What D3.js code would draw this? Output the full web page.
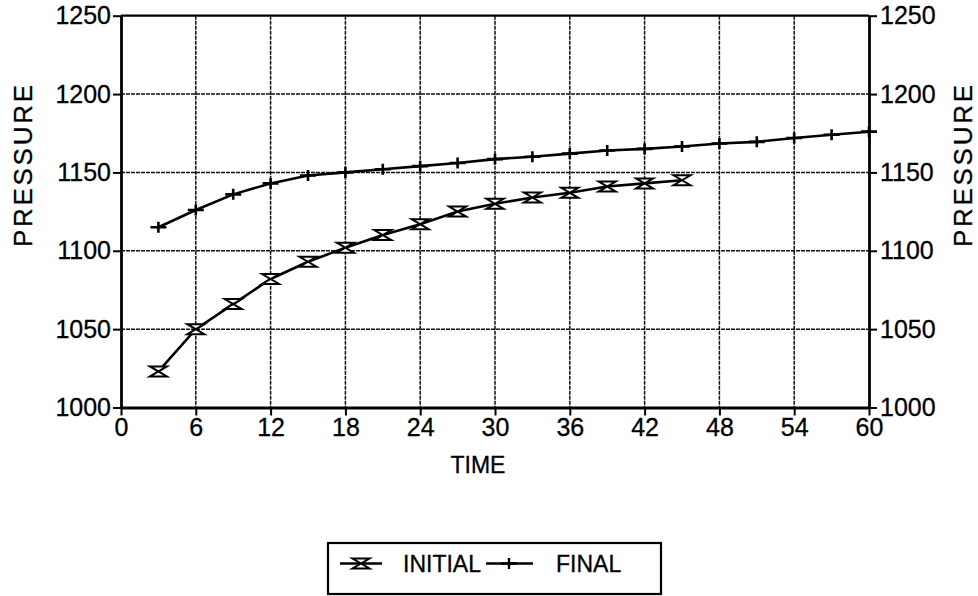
<!DOCTYPE html>
<html>
<head>
<meta charset="utf-8">
<script src="https://cdn.jsdelivr.net/npm/d3@7"></script>
<style>
  body { margin: 0; background: #fff; }
  text { font-family: "Liberation Sans", Arial, sans-serif; fill: #000; }
</style>
</head>
<body>
<svg width="978" height="596"></svg>
<script>
// data
const initialTime = [3, 6, 9, 12, 15, 18, 21, 24, 27, 30, 33, 36, 39, 42, 45];
const initialPressure = [1023, 1050, 1066, 1082, 1093, 1102, 1110, 1117, 1125, 1130, 1134, 1137, 1141, 1143, 1145];
const finalTime = [3, 6, 9, 12, 15, 18, 21, 24, 27, 30, 33, 36, 39, 42, 45, 48, 51, 54, 57, 60];
const finalPressure = [1115, 1126, 1136, 1143, 1148, 1150, 1152, 1154, 1156, 1158.5, 1160, 1162, 1164, 1165, 1166.5, 1168.5, 1169.5, 1172, 1174, 1176];
const xTicks = [0, 6, 12, 18, 24, 30, 36, 42, 48, 54, 60];
const yTicks = [1000, 1050, 1100, 1150, 1200, 1250];
const seriesNames = ["INITIAL", "FINAL"];

const svg = d3.select("svg");
const plotLeft = 121, plotRight = 869, plotTop = 15.7, plotBottom = 407.5;

const x = d3.scaleLinear().domain([0, 60]).range([plotLeft, plotRight]);
const y = d3.scaleLinear().domain([1000, 1250]).range([plotBottom, plotTop]);

// grid
const grid = svg.append("g").attr("stroke", "#111").attr("stroke-width", 1.5).attr("stroke-dasharray", "4,1");
grid.selectAll(".vg").data(xTicks.slice(1, -1)).enter().append("line")
    .attr("x1", (d) => x(d)).attr("x2", (d) => x(d))
    .attr("y1", plotTop).attr("y2", plotBottom);
grid.selectAll(".hg").data(yTicks.slice(1, -1)).enter().append("line")
    .attr("x1", plotLeft).attr("x2", plotRight)
    .attr("y1", (d) => y(d)).attr("y2", (d) => y(d));

// top border
svg.append("line").attr("x1", plotLeft).attr("x2", plotRight).attr("y1", plotTop).attr("y2", plotTop)
    .attr("stroke", "#000").attr("stroke-width", 2.2);

function styleAxis(g) {
  g.select(".domain").attr("stroke-width", 2.8);
  g.selectAll(".tick line").attr("stroke-width", 2);
  g.selectAll(".tick text").attr("font-size", 25).attr("font-family", "Liberation Sans, Arial, sans-serif")
      .attr("stroke", "#000").attr("stroke-width", 0.3);
}

const fmt = d3.format("d");

svg.append("g").attr("transform", "translate(0," + plotBottom + ")")
    .call(d3.axisBottom(x).tickValues(xTicks).tickFormat(fmt).tickSize(8).tickSizeOuter(0).tickPadding(3))
    .call(styleAxis);

svg.append("g").attr("transform", "translate(" + plotLeft + ",0)")
    .call(d3.axisLeft(y).tickValues(yTicks).tickFormat(fmt).tickSize(8).tickSizeOuter(0).tickPadding(2))
    .call(styleAxis);

svg.append("g").attr("transform", "translate(" + plotRight + ",0)")
    .call(d3.axisRight(y).tickValues(yTicks).tickFormat(fmt).tickSize(8).tickSizeOuter(0).tickPadding(3))
    .call(styleAxis);

// axis titles
svg.append("text").attr("x", 478).attr("y", 473)
    .attr("text-anchor", "middle").attr("font-size", 23).attr("stroke", "#000").attr("stroke-width", 0.3).text("TIME");
svg.append("text").attr("transform", "translate(32,166) rotate(-90)")
    .attr("text-anchor", "middle").attr("font-size", 26).attr("textLength", 162)
    .attr("stroke", "#000").attr("stroke-width", 0.3).text("PRESSURE");
svg.append("text").attr("transform", "translate(972,166) rotate(-90)")
    .attr("text-anchor", "middle").attr("font-size", 26).attr("textLength", 162)
    .attr("stroke", "#000").attr("stroke-width", 0.3).text("PRESSURE");

// markers
const hourglass = "M-8.5,-5L8.5,-5L-8.5,5L8.5,5Z";
const plus = "M-8,0L8,0M0,-5.5L0,5.5";

const line = d3.line().x((d) => x(d[0])).y((d) => y(d[1]));
const initialData = d3.zip(initialTime, initialPressure);
const finalData = d3.zip(finalTime, finalPressure);

svg.append("path").datum(finalData).attr("d", line)
    .attr("fill", "none").attr("stroke", "#000").attr("stroke-width", 2.6);
svg.append("g").selectAll("path").data(finalData).enter().append("path")
    .attr("transform", (d) => "translate(" + x(d[0]) + "," + y(d[1]) + ")")
    .attr("d", plus).attr("stroke", "#000").attr("stroke-width", 2.6);

svg.append("path").datum(initialData).attr("d", line)
    .attr("fill", "none").attr("stroke", "#000").attr("stroke-width", 2.6);
svg.append("g").selectAll("path").data(initialData).enter().append("path")
    .attr("transform", (d) => "translate(" + x(d[0]) + "," + y(d[1]) + ")")
    .attr("d", hourglass).attr("fill", "#fff").attr("stroke", "#000").attr("stroke-width", 2);

// legend
const legend = svg.append("g");
legend.append("rect").attr("x", 328).attr("y", 543).attr("width", 333).attr("height", 51)
    .attr("fill", "#fff").attr("stroke", "#000").attr("stroke-width", 2.2);
const ly = 563.5;
legend.append("line").attr("x1", 340).attr("x2", 382).attr("y1", ly).attr("y2", ly)
    .attr("stroke", "#000").attr("stroke-width", 2.4);
legend.append("path").attr("transform", "translate(361," + ly + ")").attr("d", hourglass)
    .attr("fill", "#fff").attr("stroke", "#000").attr("stroke-width", 2);
legend.append("text").attr("x", 403).attr("y", 572).attr("font-size", 23)
    .attr("stroke", "#000").attr("stroke-width", 0.3).text(seriesNames[0]);
legend.append("line").attr("x1", 486).attr("x2", 533).attr("y1", ly).attr("y2", ly)
    .attr("stroke", "#000").attr("stroke-width", 2.4);
legend.append("path").attr("transform", "translate(509," + ly + ")").attr("d", plus)
    .attr("stroke", "#000").attr("stroke-width", 2.4);
legend.append("text").attr("x", 556).attr("y", 572).attr("font-size", 23)
    .attr("stroke", "#000").attr("stroke-width", 0.3).text(seriesNames[1]);
</script>
</body>
</html>
